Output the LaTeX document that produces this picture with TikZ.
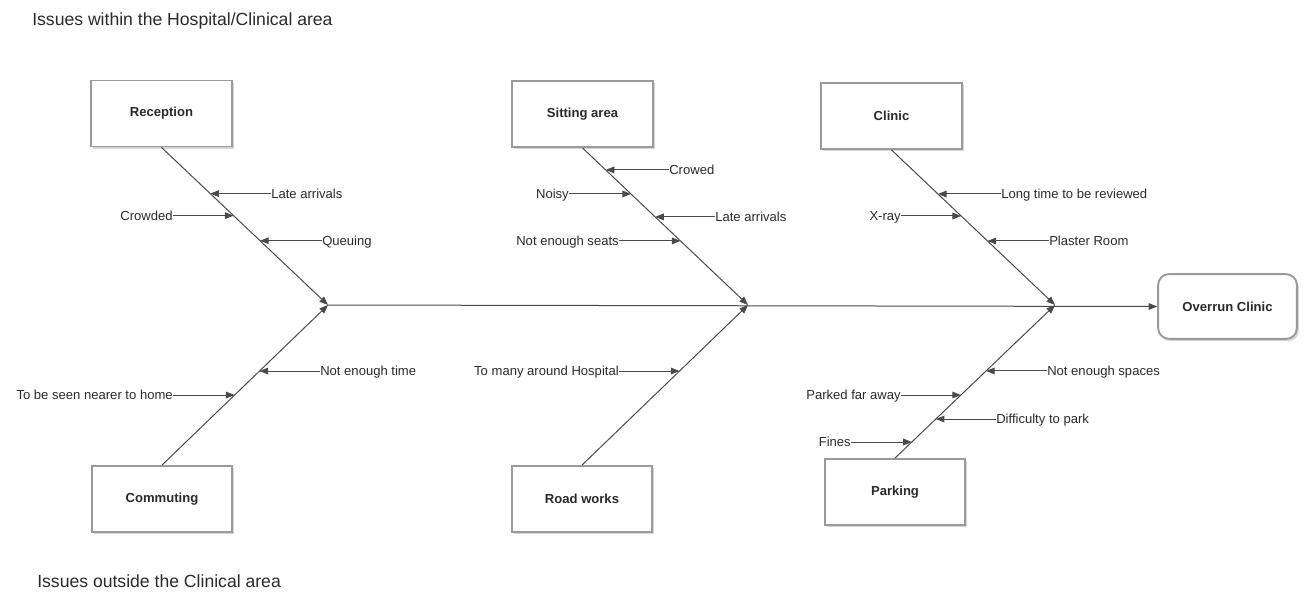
\documentclass[tikz,border=0pt]{standalone}
\usepackage{fontspec}
\setmainfont{Liberation Sans}
\usetikzlibrary{arrows.meta,shadows,calc}
\definecolor{ln}{HTML}{4A4A4A}
\definecolor{bx}{HTML}{9A9A9A}
\definecolor{tx}{HTML}{2A2A2A}
\begin{document}
\begin{tikzpicture}[x=0.75pt,y=-0.75pt,
  catbox/.style={draw=bx, line width=1.4pt, fill=white,
    minimum width=105.5pt, minimum height=49.5pt, inner sep=0pt,
    drop shadow={shadow xshift=1.5pt, shadow yshift=-1.8pt, opacity=0.4, fill=gray!80},
    font=\fontsize{9.8}{12}\selectfont\bfseries, text=tx},
  effbox/.style={catbox, rounded corners=8pt, minimum width=104pt, minimum height=48.5pt},
  lbl/.style={font=\fontsize{9.8}{12}\selectfont, text=tx, inner sep=0pt, text height=0.72em, text depth=0pt},
  ttl/.style={font=\fontsize{13.2}{15}\selectfont, text=tx, inner sep=0pt},
  br/.style={draw=ln, line width=0.75pt, -{Triangle[length=6.5pt,width=5pt]}},
  sub/.style={draw=ln, line width=0.75pt, -{Triangle[length=6.5pt,width=5pt]}}
]
\useasboundingbox (0,0) rectangle (1306,594);

% titles
\node[ttl, anchor=base west] (t1) at (32,25.5) {Issues within the Hospital/Clinical area};
\node[ttl, anchor=base west] (t2) at (37,587) {Issues outside the Clinical area};

% category boxes
\node[catbox] (rec)  at (161.5,113.5) {Reception};
\node[catbox] (sit)  at (582.5,114) {Sitting area};
\node[catbox] (cli)  at (891.5,116) {Clinic};
\node[catbox] (com)  at (162,499) {Commuting};
\node[catbox] (road) at (582,499) {Road works};
\node[catbox] (park) at (895,492) {Parking};
\node[effbox] (oc)   at (1227.5,306.5) {Overrun Clinic};

% junctions on the spine
\coordinate (j1) at (328,305);
\coordinate (j2) at (748,305);
\coordinate (j3) at (1055,305);

% spine and bones
\draw[br] (j1) -- (oc.west);
\draw[br] (rec.south) -- (j1);
\draw[br] (com.north) -- (j1);
\draw[br] (sit.south) -- (j2);
\draw[br] (road.north) -- (j2);
\draw[br] (cli.south) -- (j3);
\draw[br] (park.north) -- (j3);

% Reception causes
\coordinate (rA) at ($(rec.south)!0.293!(j1)$);
\coordinate (rB) at ($(rec.south)!0.433!(j1)$);
\coordinate (rC) at ($(rec.south)!0.592!(j1)$);
\node[lbl, anchor=west] (lrA) at (271,0 |- rA) {Late arrivals};
\node[lbl, anchor=east] (lrB) at (173,0 |- rB) {Crowded};
\node[lbl, anchor=west] (lrC) at (322,0 |- rC) {Queuing};
\draw[sub] (lrA.west) -- (rA);
\draw[sub] (lrB.east) -- (rB);
\draw[sub] (lrC.west) -- (rC);

% Sitting area causes
\coordinate (sA) at ($(sit.south)!0.140!(j2)$);
\coordinate (sB) at ($(sit.south)!0.293!(j2)$);
\coordinate (sC) at ($(sit.south)!0.439!(j2)$);
\coordinate (sD) at ($(sit.south)!0.592!(j2)$);
\node[lbl, anchor=west] (lsA) at (669,0 |- sA) {Crowed};
\node[lbl, anchor=east] (lsB) at (569,0 |- sB) {Noisy};
\node[lbl, anchor=west] (lsC) at (715,0 |- sC) {Late arrivals};
\node[lbl, anchor=east] (lsD) at (619,0 |- sD) {Not enough seats};
\draw[sub] (lsA.west) -- (sA);
\draw[sub] (lsB.east) -- (sB);
\draw[sub] (lsC.west) -- (sC);
\draw[sub] (lsD.east) -- (sD);

% Clinic causes
\coordinate (cA) at ($(cli.south)!0.284!(j3)$);
\coordinate (cB) at ($(cli.south)!0.426!(j3)$);
\coordinate (cC) at ($(cli.south)!0.587!(j3)$);
\node[lbl, anchor=west] (lcA) at (1001,0 |- cA) {Long time to be reviewed};
\node[lbl, anchor=east] (lcB) at (901,0 |- cB) {X-ray};
\node[lbl, anchor=west] (lcC) at (1049,0 |- cC) {Plaster Room};
\draw[sub] (lcA.west) -- (cA);
\draw[sub] (lcB.east) -- (cB);
\draw[sub] (lcC.west) -- (cC);

% Commuting causes
\coordinate (mA) at ($(com.north)!0.5875!(j1)$);
\coordinate (mB) at ($(com.north)!0.4375!(j1)$);
\node[lbl, anchor=west] (lmA) at (320,0 |- mA) {Not enough time};
\node[lbl, anchor=east] (lmB) at (173,0 |- mB) {To be seen nearer to home};
\draw[sub] (lmA.west) -- (mA);
\draw[sub] (lmB.east) -- (mB);

% Road works causes
\coordinate (wA) at ($(road.north)!0.5875!(j2)$);
\node[lbl, anchor=east] (lwA) at (619,0 |- wA) {To many around Hospital};
\draw[sub] (lwA.east) -- (wA);

% Parking causes
\coordinate (pA) at ($(park.north)!0.569!(j3)$);
\coordinate (pB) at ($(park.north)!0.412!(j3)$);
\coordinate (pC) at ($(park.north)!0.255!(j3)$);
\coordinate (pD) at ($(park.north)!0.105!(j3)$);
\node[lbl, anchor=west] (lpA) at (1047,0 |- pA) {Not enough spaces};
\node[lbl, anchor=east] (lpB) at (901,0 |- pB) {Parked far away};
\node[lbl, anchor=west] (lpC) at (996,0 |- pC) {Difficulty to park};
\node[lbl, anchor=east] (lpD) at (851,0 |- pD) {Fines};
\draw[sub] (lpA.west) -- (pA);
\draw[sub] (lpB.east) -- (pB);
\draw[sub] (lpC.west) -- (pC);
\draw[sub] (lpD.east) -- (pD);
\end{tikzpicture}
\end{document}
